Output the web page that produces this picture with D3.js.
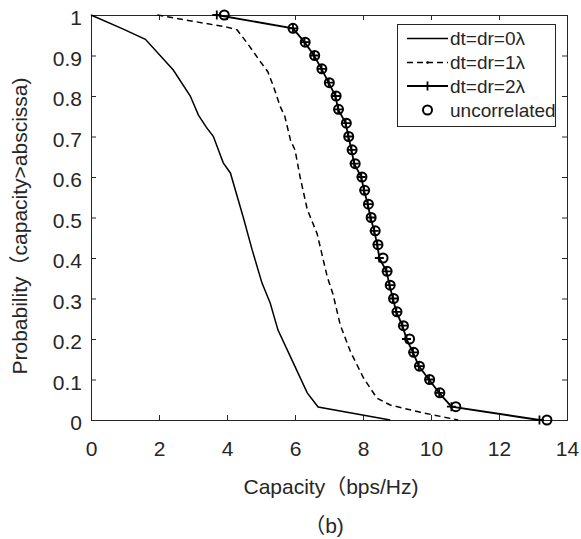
<!DOCTYPE html>
<html>
<head>
<meta charset="utf-8">
<script src="https://cdn.jsdelivr.net/npm/d3@7"></script>
<style>
  html, body { margin: 0; padding: 0; background: #fff; }
  svg text { font-family: "Liberation Sans", Arial, "Noto Sans CJK SC", sans-serif; fill: #262626; }
</style>
</head>
<body>
<svg id="chart" width="581" height="539"></svg>
<script>
// Complementary CDF of capacity for several antenna spacings
const xTicks = [0, 2, 4, 6, 8, 10, 12, 14];
const yTicks = [0, 0.1, 0.2, 0.3, 0.4, 0.5, 0.6, 0.7, 0.8, 0.9, 1];
const yTickLabels = ["0", "0.1", "0.2", "0.3", "0.4", "0.5", "0.6", "0.7", "0.8", "0.9", "1"];

// dt=dr=0λ
const spacing0 = [
  [0, 1], [0.95, 0.965], [1.6, 0.94], [2.42, 0.864], [2.92, 0.80], [3.16, 0.753],
  [3.39, 0.723], [3.6, 0.70], [3.89, 0.635], [4.1, 0.61], [4.48, 0.50], [4.74, 0.42],
  [5.03, 0.338], [5.27, 0.289], [5.5, 0.222], [5.95, 0.141], [6.36, 0.067],
  [6.68, 0.032], [8.8, 0]
];

// dt=dr=1λ
const spacing1 = [
  [1.95, 1], [4.0, 0.97], [4.3, 0.963], [4.6, 0.93], [4.98, 0.885], [5.2, 0.86],
  [5.37, 0.823], [5.57, 0.773], [5.7, 0.75], [5.87, 0.69], [6.0, 0.667], [6.15, 0.6],
  [6.36, 0.52], [6.65, 0.46], [6.95, 0.353], [7.12, 0.31], [7.33, 0.235],
  [7.63, 0.169], [8.02, 0.103], [8.41, 0.054], [8.8, 0.037], [9.69, 0.019], [10.8, 0]
];

// probability levels shared by the last two series
const levels = [1, 0.967, 0.933, 0.9, 0.867, 0.833, 0.8, 0.767, 0.733, 0.7, 0.667,
  0.633, 0.6, 0.567, 0.533, 0.5, 0.467, 0.433, 0.4, 0.367, 0.333, 0.3, 0.267,
  0.233, 0.2, 0.167, 0.133, 0.1, 0.067, 0.033, 0];

// dt=dr=2λ capacities at each level
const spacing2X = [3.70, 5.94, 6.28, 6.56, 6.78, 6.99, 7.19, 7.27, 7.49, 7.57, 7.66,
  7.74, 7.95, 8.03, 8.14, 8.22, 8.33, 8.42, 8.48, 8.69, 8.78, 8.88, 8.98,
  9.16, 9.28, 9.47, 9.64, 9.94, 10.24, 10.60, 13.19];

// uncorrelated capacities at each level
const uncorrX = [3.92, 5.94, 6.30, 6.58, 6.79, 7.01, 7.21, 7.28, 7.51, 7.58, 7.68,
  7.77, 7.97, 8.05, 8.16, 8.24, 8.36, 8.44, 8.59, 8.71, 8.80, 8.90, 9.00,
  9.19, 9.37, 9.49, 9.66, 9.96, 10.26, 10.73, 13.41];

const legendLabels = ["dt=dr=0λ", "dt=dr=1λ", "dt=dr=2λ", "uncorrelated"];

const svg = d3.select("#chart");
const plotLeft = 91, plotRight = 567, plotTop = 15, plotBottom = 420;
const x = d3.scaleLinear().domain([0, 14]).range([plotLeft, plotRight]);
const y = d3.scaleLinear().domain([0, 1]).range([plotBottom, plotTop]);
const ink = "#262626";
const tickLen = 5;
const fontSize = 21;

// axes with inward ticks on all four sides
const gx = svg.append("g").attr("transform", `translate(0,${plotBottom})`)
  .call(d3.axisBottom(x).tickValues(xTicks).tickSize(-tickLen).tickPadding(21).tickFormat(d3.format("d")));
const gxTop = svg.append("g").attr("transform", `translate(0,${plotTop})`)
  .call(d3.axisTop(x).tickValues(xTicks).tickSize(-tickLen).tickFormat(""));
const gy = svg.append("g").attr("transform", `translate(${plotLeft},0)`)
  .call(d3.axisLeft(y).tickValues(yTicks).tickSize(-tickLen).tickPadding(9).tickFormat((d, i) => yTickLabels[i]));
const gyRight = svg.append("g").attr("transform", `translate(${plotRight},0)`)
  .call(d3.axisRight(y).tickValues(yTicks).tickSize(-tickLen).tickFormat(""));

[gx, gxTop, gy, gyRight].forEach(g => {
  g.select(".domain").attr("stroke", ink).attr("stroke-width", 1);
  g.selectAll(".tick line").attr("stroke", ink).attr("stroke-width", 1);
  g.selectAll(".tick text").attr("font-size", fontSize).style("font-family", "'Liberation Sans', Arial, sans-serif").attr("fill", ink);
});
gx.selectAll(".tick text").attr("dy", "0.71em");
gy.selectAll(".tick text").attr("dy", "0.46em");

const line = d3.line().x(d => x(d[0])).y(d => y(d[1]));

// dt=dr=0λ: solid
svg.append("path").datum(spacing0).attr("d", line)
  .attr("fill", "none").attr("stroke", "#000").attr("stroke-width", 1.5);

// dt=dr=1λ: dashed
svg.append("path").datum(spacing1).attr("d", line)
  .attr("fill", "none").attr("stroke", "#000").attr("stroke-width", 1.5)
  .attr("stroke-dasharray", "6,4");

// dt=dr=2λ: solid with plus markers
const spacing2 = spacing2X.map((v, i) => [v, levels[i]]);
svg.append("path").datum(spacing2).attr("d", line)
  .attr("fill", "none").attr("stroke", "#000").attr("stroke-width", 1.8);
const plusPath = "M-4.5,0H4.5M0,-4.5V4.5";
svg.append("g").selectAll("path").data(spacing2).join("path")
  .attr("transform", d => `translate(${x(d[0])},${y(d[1])})`)
  .attr("d", plusPath).attr("stroke", "#000").attr("stroke-width", 1.8).attr("fill", "none");

// uncorrelated: circle markers only
const uncorr = uncorrX.map((v, i) => [v, levels[i]]);
svg.append("g").selectAll("circle").data(uncorr).join("circle")
  .attr("cx", d => x(d[0])).attr("cy", d => y(d[1])).attr("r", 4.5)
  .attr("fill", "none").attr("stroke", "#000").attr("stroke-width", 2);

// axis titles
svg.append("text").attr("x", 331).attr("y", 494).attr("text-anchor", "middle")
  .attr("font-size", fontSize).text("Capacity（bps/Hz)");
svg.append("text").attr("transform", "translate(27,226) rotate(-90)")
  .attr("text-anchor", "middle").attr("font-size", fontSize).text("Probability（capacity>abscissa)");
svg.append("text").attr("x", 324).attr("y", 533).attr("text-anchor", "middle")
  .attr("font-size", fontSize).text("（b)");

// legend
const lg = svg.append("g");
lg.append("rect").attr("x", 397.5).attr("y", 24.5).attr("width", 158).attr("height", 102)
  .attr("fill", "#fff").attr("stroke", ink).attr("stroke-width", 1);
const rowY = [38.5, 62.5, 86, 110];
const sx0 = 407, sx1 = 448, sxm = (sx0 + sx1) / 2;
lg.append("line").attr("x1", sx0).attr("x2", sx1).attr("y1", rowY[0]).attr("y2", rowY[0])
  .attr("stroke", "#000").attr("stroke-width", 1.5);
lg.append("line").attr("x1", sx0).attr("x2", sx1).attr("y1", rowY[1]).attr("y2", rowY[1])
  .attr("stroke", "#000").attr("stroke-width", 1.5).attr("stroke-dasharray", "6,4");
lg.append("circle").attr("cx", sxm).attr("cy", rowY[1]).attr("r", 1.3).attr("fill", "#000");
lg.append("line").attr("x1", sx0).attr("x2", sx1).attr("y1", rowY[2]).attr("y2", rowY[2])
  .attr("stroke", "#000").attr("stroke-width", 1.8);
lg.append("path").attr("transform", `translate(${sxm},${rowY[2]})`).attr("d", plusPath)
  .attr("stroke", "#000").attr("stroke-width", 1.8);
lg.append("circle").attr("cx", sxm).attr("cy", rowY[3]).attr("r", 4.5)
  .attr("fill", "none").attr("stroke", "#000").attr("stroke-width", 2);
lg.selectAll("text.lab").data(legendLabels).join("text").attr("class", "lab")
  .attr("x", 450).attr("y", (d, i) => rowY[i]).attr("dy", "0.35em")
  .attr("font-size", 19).text(d => d);
</script>
</body>
</html>
